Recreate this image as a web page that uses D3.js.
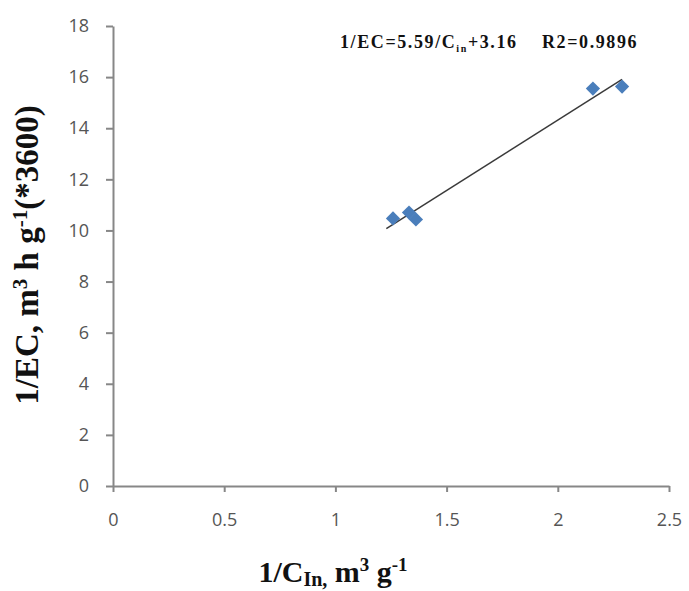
<html>
<head>
<script src="https://d3js.org/d3.v7.min.js"></script>
<style>
  body { margin: 0; background: #fff; }
  .tick text { font-family: "Open Sans", "DejaVu Sans", sans-serif; font-size: 18px; fill: #555; }
  .title { font-family: "Liberation Serif", serif; font-weight: 700; fill: #111; white-space: pre; }
</style>
</head>
<body>
<div id="chart"></div>
<script>
// data
var invC = [1.259, 1.331, 1.362, 2.158, 2.289];
var invEC = [10.47, 10.70, 10.43, 15.55, 15.63];
var xTicks = [0, 0.5, 1, 1.5, 2, 2.5];
var yTicks = [0, 2, 4, 6, 8, 10, 12, 14, 16, 18];

var w = 689, h = 591;
var mLeft = 113, mRight = 669, mTop = 26, mBottom = 486;

var svg = d3.select('#chart').append('svg').attr('width', w).attr('height', h);

var x = d3.scaleLinear().domain([0, 2.5]).range([mLeft, mRight]);
var y = d3.scaleLinear().domain([0, 18]).range([mBottom, mTop]);

// axes
var xAxis = d3.axisBottom(x).tickValues(xTicks).tickFormat(d3.format('')).tickSize(6).tickSizeOuter(0);
var yAxis = d3.axisLeft(y).tickValues(yTicks).tickSize(7).tickSizeOuter(0);

var gx = svg.append('g').attr('transform', 'translate(0,' + mBottom + ')').call(xAxis);
var gy = svg.append('g').attr('transform', 'translate(' + mLeft + ',0)').call(yAxis);
svg.selectAll('.domain').attr('stroke', '#878787').attr('stroke-width', 2);
svg.selectAll('.tick line').attr('stroke', '#878787').attr('stroke-width', 2);
gx.selectAll('.tick text').attr('y', 34).attr('dy', '0.32em');
gy.selectAll('.tick text').attr('x', -24);

// trend line from least squares
var mx = d3.mean(invC), my = d3.mean(invEC);
var sxy = d3.sum(invC, function(d, i){ return (d - mx) * (invEC[i] - my); });
var sxx = d3.sum(invC, function(d){ return (d - mx) * (d - mx); });
var slope = sxy / sxx, icpt = my - slope * mx;
var x0 = d3.min(invC) - 0.03, x1 = d3.max(invC);
var line = d3.line().x(function(d){ return x(d); }).y(function(d){ return y(slope * d + icpt); });
svg.append('path').attr('d', line([x0, x1])).attr('fill', 'none').attr('stroke', '#3a3a3a').attr('stroke-width', 1.5);

// markers
var diamond = d3.symbol().type(d3.symbolDiamond2).size(130);
svg.selectAll('.pt').data(invC).enter().append('path')
  .attr('class', 'pt')
  .attr('d', diamond)
  .attr('transform', function(d, i){ return 'translate(' + x(d) + ',' + y(invEC[i]) + ')'; })
  .attr('fill', '#4a7ebb');

// equation
var eq = svg.append('text').attr('class', 'title').attr('x', 340).attr('y', 48)
  .attr('textLength', 296).style('font-size', '18px').style('letter-spacing', '-0.5px');
eq.append('tspan').text('1/EC=5.59/C');
eq.append('tspan').attr('dy', 4).style('font-size', '10px').text('in');
eq.append('tspan').attr('dy', -4).text('+3.16    R2=0.9896');

// y title
var yt = svg.append('text').attr('class', 'title')
  .attr('transform', 'translate(38,255) rotate(-90)')
  .attr('text-anchor', 'middle').style('font-size', '33px');
yt.append('tspan').text('1/EC, m');
yt.append('tspan').attr('dy', -11).style('font-size', '21px').text('3');
yt.append('tspan').attr('dy', 11).text(' h g');
yt.append('tspan').attr('dy', -11).style('font-size', '21px').text('-1');
yt.append('tspan').attr('dy', 11).text('(*3600)');

// x title
var xt = svg.append('text').attr('class', 'title')
  .attr('x', 333).attr('y', 582).attr('text-anchor', 'middle').style('font-size', '30px');
xt.append('tspan').text('1/C');
xt.append('tspan').attr('dy', 4).style('font-size', '20px').text('In,');
xt.append('tspan').attr('dy', -4).text(' m');
xt.append('tspan').attr('dy', -11).style('font-size', '19px').text('3');
xt.append('tspan').attr('dy', 11).text(' g');
xt.append('tspan').attr('dy', -11).style('font-size', '19px').text('-1');
</script>
</body>
</html>
